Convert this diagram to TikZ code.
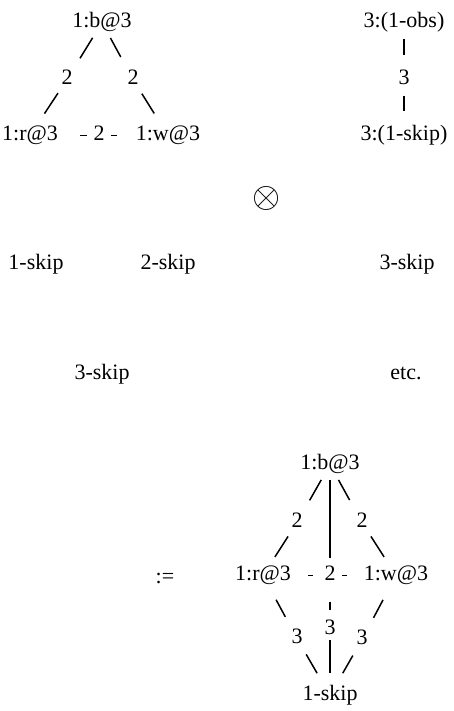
\documentclass[tikz,border=0pt]{standalone}
\usepackage{fontspec}
\setmainfont{Liberation Serif}

\begin{document}
\begin{tikzpicture}[
    x=1pt, y=1pt,
    every node/.style={
      inner sep=0pt, text height=15pt, text depth=5pt,
      font=\fontsize{22}{26}\selectfont
    },
    link/.style={line width=1.5pt, shorten <=6pt, shorten >=14pt},
    tick/.style={line width=1.5pt}
  ]
  \useasboundingbox (0,0) rectangle (453,-711);

  %% ===== triangle (top left) =====
  \node (tb)  at (102,-22.5)  {1:b@3};
  \node (tr)  at (30,-135.5)  {1:r@3};
  \node (tw)  at (168,-135.5) {1:w@3};
  \node (tbr) at (67,-79.5)   {2};
  \node (tbw) at (133,-79.5)  {2};
  \node (trw) at (99,-135.5)  {2};

  \draw[link] (tb) -- (tbr);
  \draw[link] (tbr) -- (tr);
  \draw[link] (tb) -- (tbw);
  \draw[link] (tbw) -- (tw);
  \draw[tick, shorten <=22pt, shorten >=6pt] (tr) -- (trw);
  \draw[tick, shorten <=6pt, shorten >=19pt] (trw) -- (tw);

  %% ===== chain (top right) =====
  \node (obs)  at (404,-22.5)  {3:(1-obs)};
  \node (os)   at (404,-79.5)  {3};
  \node (skp)  at (404,-135.5) {3:(1-skip)};

  \draw[link] (obs) -- (os);
  \draw[link] (os) -- (skp);

  %% ===== product and skips =====
  \node[text height=, text depth=, scale=1.45] (prod) at (266.5,-198.5)
    {\fontsize{24.88}{25}\selectfont$\otimes$};

  \node (s1)  at (36,-264.5)  {1-skip};
  \node (s2)  at (168,-264.5) {2-skip};
  \node (s3)  at (407,-264.5) {3-skip};
  \node (s3b) at (102,-374.5) {3-skip};
  \node (etc) at (406,-374.5) {etc.};

  %% ===== result (bottom) =====
  \node (def) at (165,-578) {:=};

  \node (db)  at (330,-464.5) {1:b@3};
  \node (dr)  at (263,-575.5) {1:r@3};
  \node (dw)  at (396,-575.5) {1:w@3};
  \node (dk)  at (330,-695.5) {1-skip};
  \node (dbr) at (297,-522.5) {2};
  \node (dbw) at (362,-522.5) {2};
  \node (drw) at (330,-575.5) {2};
  \node (dbk) at (330,-629.5) {3};
  \node (drk) at (297,-638.5) {3};
  \node (dwk) at (362,-639.5) {3};

  \draw[link] (db) -- (dbr);
  \draw[link, shorten >=10pt] (dbr) -- (dr);
  \draw[link] (db) -- (dbw);
  \draw[link, shorten >=10pt] (dbw) -- (dw);
  \draw[tick, shorten <=17pt, shorten >=11.5pt] (dr) -- (drw);
  \draw[tick, shorten <=6.5pt, shorten >=17pt] (drw) -- (dw);

  \draw[link, shorten <=5pt, shorten >=7pt] (db) -- (drw);
  \draw[link, shorten <=16pt, shorten >=9pt] (drw) -- (dbk);
  \draw[link, shorten <=0.5pt, shorten >=12pt] (dbk) -- (dk);

  \draw[link, shorten <=16pt, shorten >=13pt] (dr) -- (drk);
  \draw[link, shorten <=7pt] (drk) -- (dk);
  \draw[link, shorten <=16pt, shorten >=13pt] (dw) -- (dwk);
  \draw[link, shorten <=7pt] (dwk) -- (dk);
\end{tikzpicture}
\end{document}
